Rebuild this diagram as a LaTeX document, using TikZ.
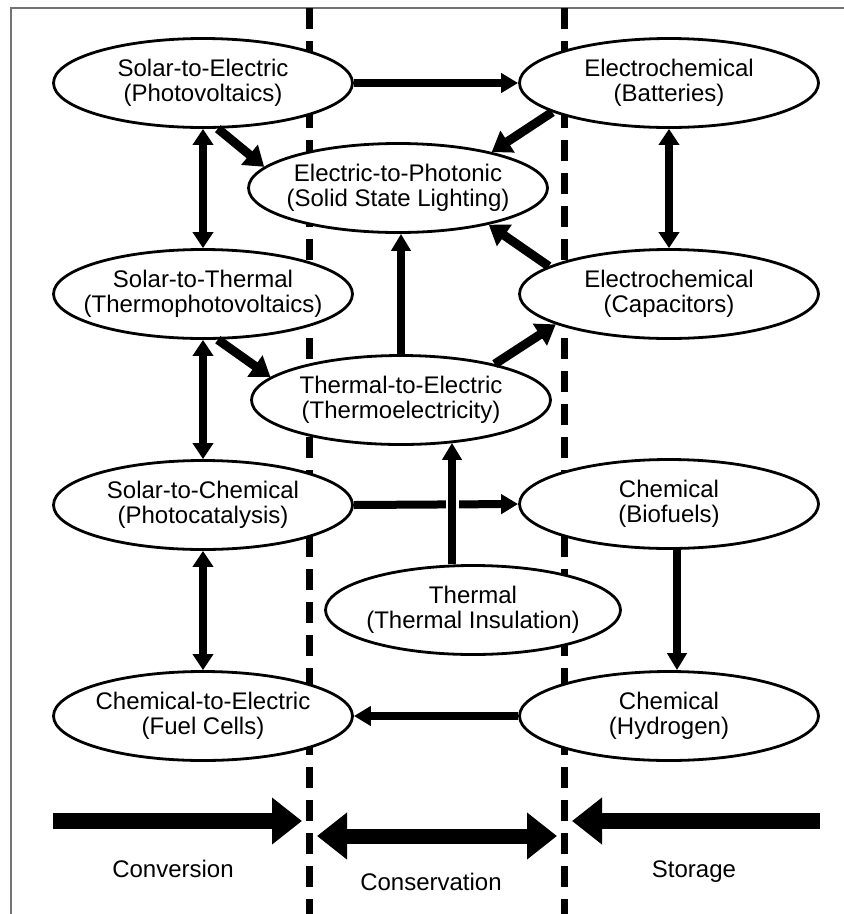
\documentclass[tikz,border=0pt]{standalone}
\usepackage{fontspec}
\setmainfont{Liberation Sans}
\usetikzlibrary{arrows.meta,shapes.geometric,calc}
\begin{document}
\begin{tikzpicture}[x=1pt,y=-1pt,
  txt/.style={align=center, inner sep=0pt, font=\fontsize{24}{25}\selectfont},
  box/.style={ellipse, draw, line width=2.8pt, fill=white, minimum width=299pt, minimum height=89pt, inner sep=0pt},
  harrow/.style={line width=8pt, -{Triangle[width=19pt,length=17pt]}},
  darrow/.style={line width=9pt, -{Triangle[width=25pt,length=19pt]}},
  varrow/.style={line width=7.5pt, {Triangle[width=20pt,length=16pt]}-{Triangle[width=20pt,length=16pt]}},
  bigarrow/.style={line width=16pt, -{Triangle[width=45pt,length=30pt]}},
  bigdarrow/.style={line width=15pt, {Triangle[width=45pt,length=30pt]}-{Triangle[width=45pt,length=30pt]}},
  divider/.style={line width=7pt, dash pattern=on 21pt off 12pt},
  frameline/.style={line width=2pt, black!55},
  lbl/.style={txt, anchor=base}
]
\useasboundingbox (0,0) rectangle (844,914);
\fill[white] (0,0) rectangle (844,914);
% frame
\coordinate (fbl) at (11,914);
\coordinate (ftl) at (11,8);
\coordinate (ftr) at (844,8);
\draw[frameline] (fbl) -- (ftl) -- (ftr);
% dividers
\coordinate (d1t) at (309,8);
\coordinate (d1b) at (309,914);
\coordinate (d2t) at (564,8);
\coordinate (d2b) at (564,914);
\draw[divider] (d1t) -- (d1b);
\draw[divider] (d2t) -- (d2b);
% nodes
\node[box, label={[txt]center:{Solar-to-Electric\\(Photovoltaics)}}] (se) at (203,83) {};
\node[box, label={[txt]center:{Electric-to-Photonic\\(Solid State Lighting)}}] (ep) at (398,188) {};
\node[box, label={[txt]center:{Electrochemical\\(Batteries)}}] (bat) at (669,83) {};
\node[box, label={[txt]center:{Solar-to-Thermal\\(Thermophotovoltaics)}}] (st) at (203,294) {};
\node[box, label={[txt]center:{Electrochemical\\(Capacitors)}}] (cap) at (669,294) {};
\node[box, label={[txt]center:{Thermal-to-Electric\\(Thermoelectricity)}}] (te) at (401,400) {};
\node[box, label={[txt]center:{Solar-to-Chemical\\(Photocatalysis)}}] (sc) at (203,505) {};
\node[box, label={[txt]center:{Chemical\\(Biofuels)}}] (bf) at (669,504) {};
\node[box, minimum width=295pt, label={[txt]center:{Thermal\\(Thermal Insulation)}}] (ti) at (473,610) {};
\node[box, label={[txt]center:{Chemical-to-Electric\\(Fuel Cells)}}] (ce) at (203,716) {};
\node[box, label={[txt]center:{Chemical\\(Hydrogen)}}] (hy) at (669,716) {};
% vertical double arrows
\draw[varrow] (se.south) -- (st.north);
\draw[varrow] (st.south) -- (sc.north);
\draw[varrow] (sc.south) -- (ce.north);
\draw[varrow] (bat.south) -- (cap.north);
% horizontal arrows
\draw[harrow] (se.east) -- (bat.west);
\draw[harrow] (sc.east) -- (bf.west);
\draw[harrow] (hy.west) -- (ce.east);
\draw[harrow] ([xshift=8pt]bf.south) -- ([xshift=8pt]hy.north);
\draw[harrow, line width=7.5pt] (te.north) -- (te.north |- ep.south);
% crossing with gap
\coordinate (vx) at (452,0);
\fill[white] ($(sc.east -| vx)+(-6.5,-6)$) rectangle ($(sc.east -| vx)+(6.5,6)$);
\draw[harrow, line width=7.5pt] (ti.north -| vx) -- ($(te.south -| vx)+(0,-3)$);
% diagonal arrows
\draw[darrow] (se.-72) -- (ep.171);
\draw[darrow] (bat.-166) -- (ep.21);
\draw[darrow] (cap.167) -- (ep.-22);
\draw[darrow] (st.-72) -- (te.170);
\draw[darrow] (te.21.5) -- (cap.-165);
% bottom arrows
\coordinate (a1s) at (53,821);
\coordinate (a1e) at (302,821);
\coordinate (a2s) at (317,836);
\coordinate (a2e) at (557,836);
\coordinate (a3s) at (820,821);
\coordinate (a3e) at (572,821);
\draw[bigarrow] (a1s) -- (a1e);
\draw[bigdarrow] (a2s) -- (a2e);
\draw[bigarrow] (a3s) -- (a3e);
\node[lbl] (conv) at (173,877) {Conversion};
\node[lbl] (cons) at (431,890) {Conservation};
\node[lbl] (stor) at (694,877) {Storage};
\end{tikzpicture}
\end{document}
